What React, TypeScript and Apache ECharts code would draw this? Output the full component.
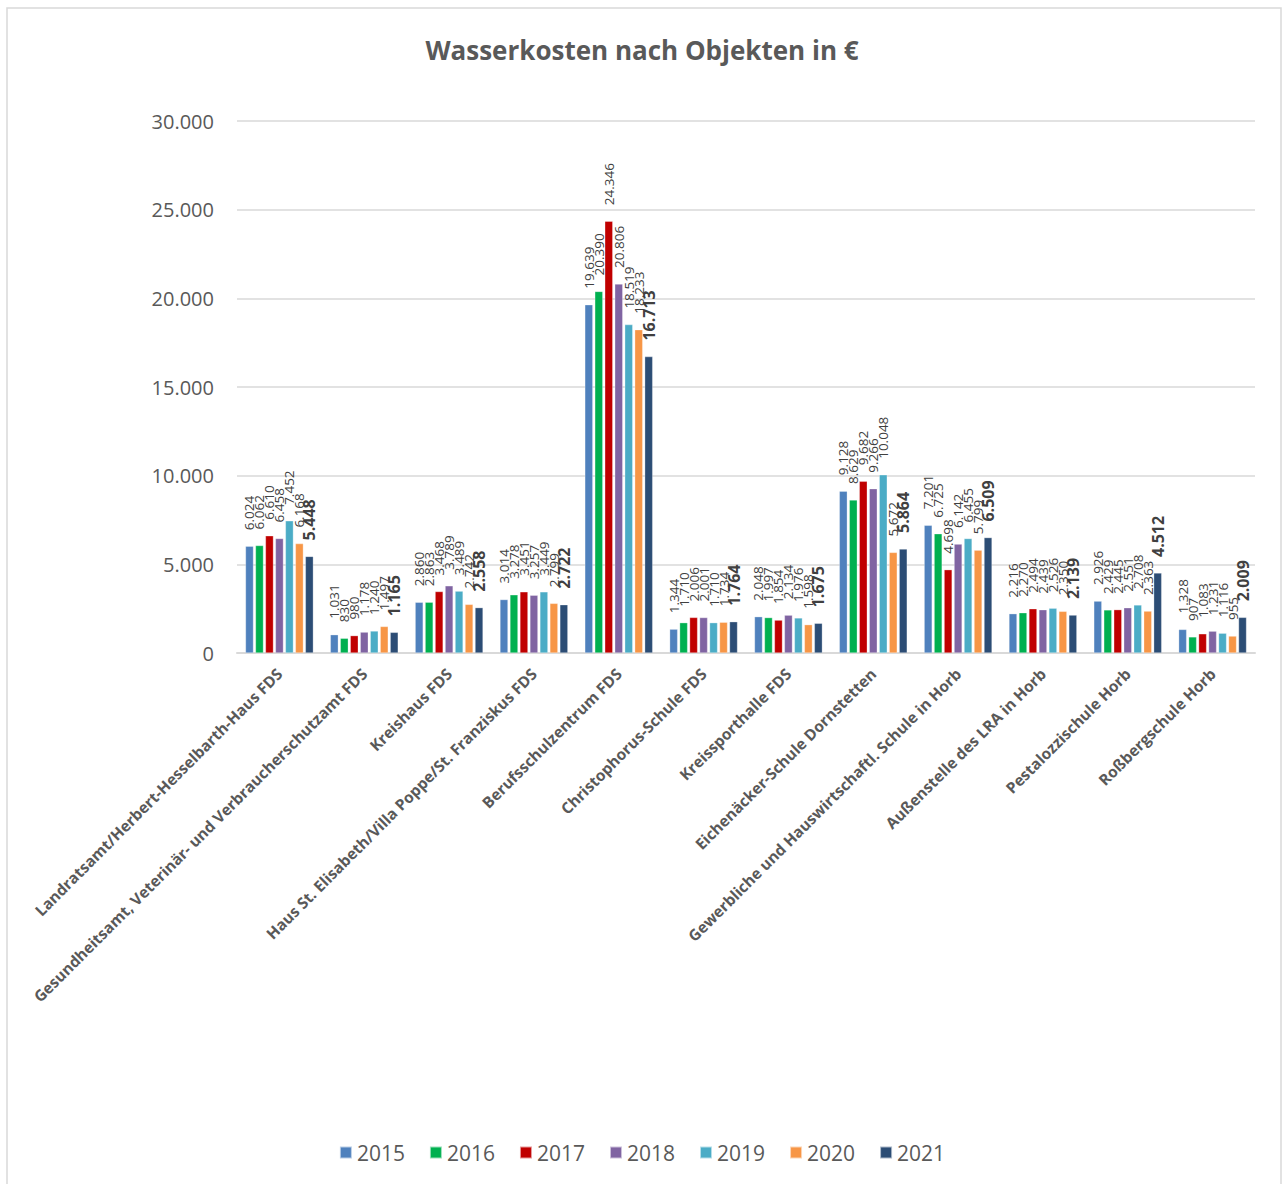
import React, { useEffect, useRef } from "react";
import * as echarts from "echarts";

const categories = [
  "Landratsamt/Herbert-Hesselbarth-Haus FDS",
  "Gesundheitsamt, Veterinär- und Verbraucherschutzamt FDS",
  "Kreishaus FDS",
  "Haus St. Elisabeth/Villa Poppe/St. Franziskus FDS",
  "Berufsschulzentrum FDS",
  "Christophorus-Schule FDS",
  "Kreissporthalle FDS",
  "Eichenäcker-Schule Dornstetten",
  "Gewerbliche und Hauswirtschaftl. Schule in Horb",
  "Außenstelle des LRA in Horb",
  "Pestalozzischule Horb",
  "Roßbergschule Horb",
];

const years = ["2015", "2016", "2017", "2018", "2019", "2020", "2021"];

const v2015 = [6024, 1031, 2860, 3014, 19639, 1344, 2048, 9128, 7201, 2216, 2926, 1328];
const v2016 = [6062, 830, 2863, 3278, 20390, 1710, 1997, 8629, 6725, 2270, 2429, 907];
const v2017 = [6610, 980, 3468, 3451, 24346, 2006, 1854, 9682, 4698, 2494, 2445, 1083];
const v2018 = [6458, 1178, 3789, 3257, 20806, 2001, 2134, 9266, 6142, 2439, 2551, 1231];
const v2019 = [7452, 1240, 3489, 3449, 18519, 1710, 1976, 10048, 6455, 2526, 2708, 1116];
const v2020 = [6168, 1497, 2742, 2799, 18233, 1734, 1598, 5672, 5799, 2350, 2363, 955];
const v2021 = [5448, 1165, 2558, 2722, 16713, 1764, 1675, 5864, 6509, 2139, 4512, 2009];

const yTicks = [0, 5000, 10000, 15000, 20000, 25000, 30000];

const seriesValues = [v2015, v2016, v2017, v2018, v2019, v2020, v2021];
const colors = ["#4F81BD", "#00B050", "#C00000", "#8064A2", "#4BACC6", "#F79646", "#2C4D75"];

const fmt = (n: number) => String(Math.round(n)).replace(/\B(?=(\d{3})+(?!\d))/g, ".");

const FONT = "'Open Sans', 'DejaVu Sans', sans-serif";

export default function App() {
  const ref = useRef<HTMLDivElement>(null);
  useEffect(() => {
    if (!ref.current) return;
    const chart = echarts.init(ref.current, null, { renderer: "svg" });
    const series = years.map((y, i) => {
      const last = i === years.length - 1;
      return {
        name: y,
        type: "bar",
        data: seriesValues[i],
        itemStyle: { color: colors[i], borderColor: "rgba(255,255,255,0.6)", borderWidth: 0.5 },
        barCategoryGap: "20%",
        barGap: "25%",
        label: {
          show: true,
          position: "top",
          rotate: 90,
          align: "left",
          verticalAlign: "middle",
          distance: 16,
          color: "#404040",
          fontFamily: FONT,
          fontSize: last ? 16 : 13.5,
          fontWeight: last ? "bold" : "normal",
          formatter: (p: any) => fmt(p.value),
        },
      };
    });
    chart.setOption({
      animation: false,
      backgroundColor: "#ffffff",
      color: colors,
      title: {
        text: "Wasserkosten nach Objekten in €",
        left: "center",
        top: 32,
        textStyle: { fontFamily: FONT, fontSize: 26, fontWeight: "bold", color: "#595959" },
      },
      graphic: [
        {
          type: "rect",
          shape: { x: 7, y: 8, width: 1274, height: 1250 },
          style: { fill: "none", stroke: "#d9d9d9", lineWidth: 1.5 },
          silent: true,
        },
      ],
      legend: {
        data: years,
        top: 1137,
        left: "center",
        icon: "rect",
        itemWidth: 12,
        itemHeight: 12,
        itemGap: 24,
        textStyle: { fontFamily: FONT, fontSize: 21, color: "#595959" },
      },
      grid: { left: 237, right: 29, top: 121, bottom: 531, containLabel: false },
      xAxis: {
        type: "category",
        data: categories,
        axisLine: { lineStyle: { color: "#d9d9d9", width: 2 } },
        axisTick: { show: false },
        axisLabel: {
          interval: 0,
          rotate: 45,
          margin: 18,
          fontFamily: FONT,
          fontSize: 15.5,
          fontWeight: "bold",
          color: "#595959",
        },
      },
      yAxis: {
        type: "value",
        min: yTicks[0],
        max: yTicks[yTicks.length - 1],
        interval: yTicks[1] - yTicks[0],
        axisLine: { show: false },
        axisTick: { show: false },
        splitLine: { lineStyle: { color: "#d9d9d9", width: 1.5 } },
        axisLabel: {
          margin: 23,
          fontFamily: FONT,
          fontSize: 20,
          color: "#595959",
          formatter: (v: number) => fmt(v),
        },
      },
      series,
    });
    return () => chart.dispose();
  }, []);
  return (
    <div
      ref={ref}
      style={{ position: "fixed", left: 0, top: 0, width: 1284, height: 1184, background: "#fff" }}
    />
  );
}
